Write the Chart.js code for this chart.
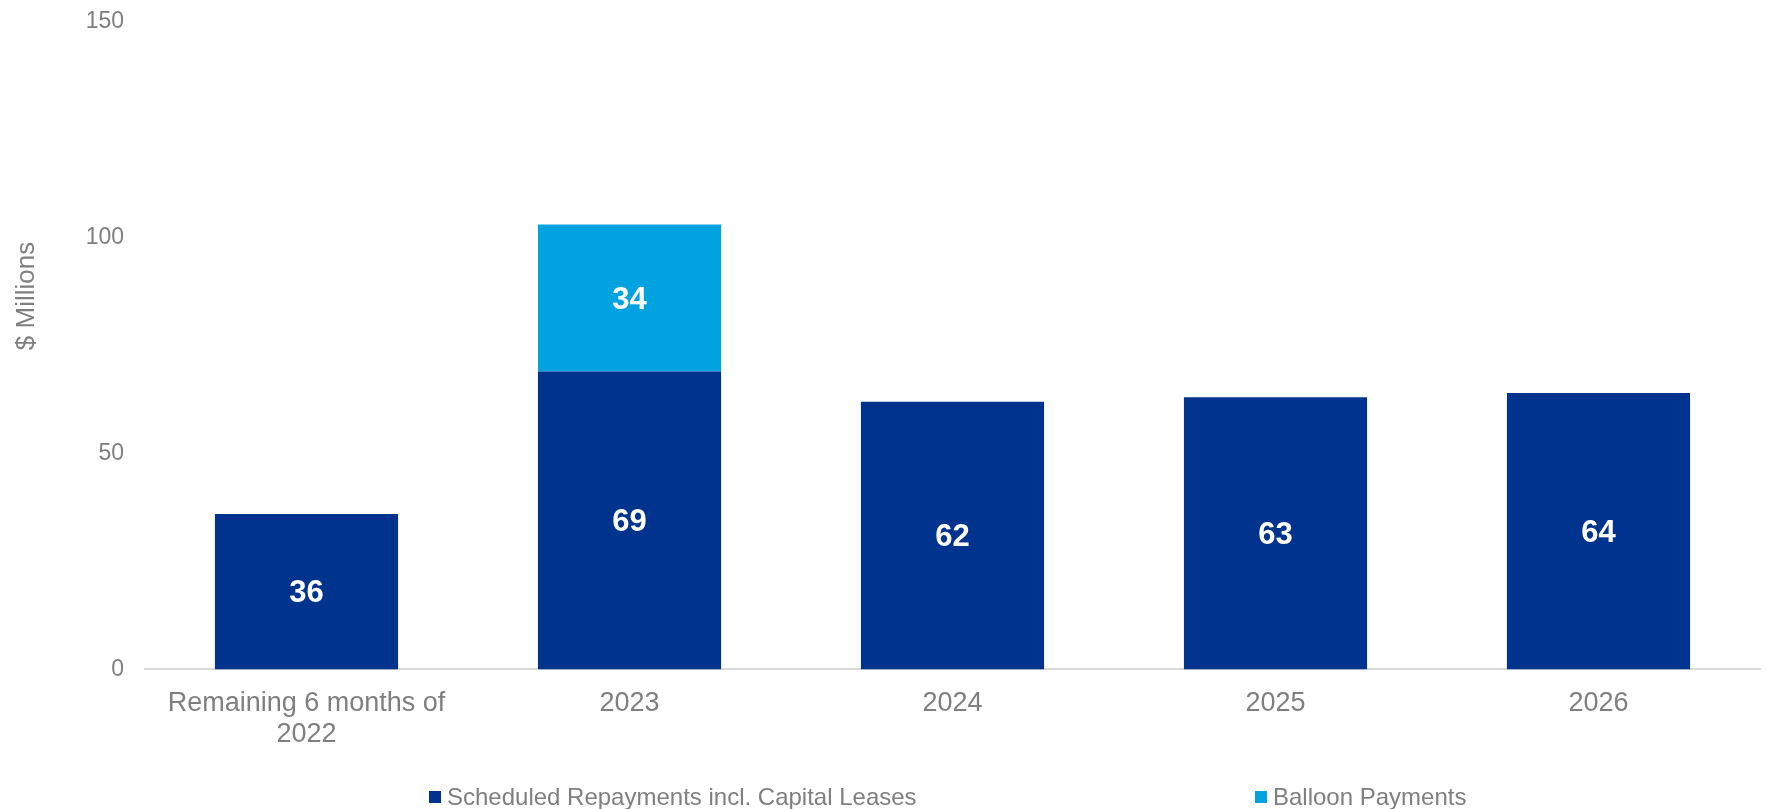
<!DOCTYPE html>
<html>
<head>
<meta charset="utf-8">
<script src="https://cdn.jsdelivr.net/npm/chart.js@4"></script>
<style>
  html, body { margin: 0; padding: 0; background: #fff; }
  #wrap { width: 1775px; height: 809px; position: relative; }
</style>
</head>
<body>
<div id="wrap"><canvas id="bar-chart"></canvas></div>
<script>
// data
const categories = [["Remaining 6 months of", "2022"], "2023", "2024", "2025", "2026"];
const scheduled = [36, 69, 62, 63, 64];
const balloon = [null, 34, null, null, null];
const yTicks = [0, 50, 100, 150];

const darkBlue = "#00338D";
const lightBlue = "#00A3E0";
const grey = "#7f7f7f";
const fam = "'Liberation Sans', Arial, sans-serif";

// white value labels in the middle of each bar segment
const barLabels = {
  id: "barLabels",
  afterDatasetsDraw(chart) {
    const ctx = chart.ctx;
    ctx.save();
    ctx.fillStyle = "#fff";
    ctx.font = "bold 31px " + fam;
    ctx.textAlign = "center";
    ctx.textBaseline = "middle";
    chart.data.datasets.forEach((ds, i) => {
      chart.getDatasetMeta(i).data.forEach((bar, j) => {
        if (ds.data[j] == null) return;
        const mid = (bar.y + bar.base) / 2;
        ctx.fillText(ds.data[j], bar.x, mid + 2);
      });
    });
    ctx.restore();
  }
};

// axis title and the spread out legend, drawn like excel does
const extras = {
  id: "extras",
  afterDraw(chart) {
    const ctx = chart.ctx;
    ctx.save();
    ctx.fillStyle = grey;
    ctx.textBaseline = "middle";
    // y axis title
    ctx.save();
    ctx.font = "26px " + fam;
    ctx.translate(27, 296);
    ctx.rotate(-Math.PI / 2);
    ctx.textAlign = "center";
    ctx.fillText("$ Millions", 0, 0);
    ctx.restore();
    // legend
    ctx.font = "24px " + fam;
    const items = [
      { x: 429, ds: chart.data.datasets[0] },
      { x: 1255, ds: chart.data.datasets[1] }
    ];
    const ly = 797;
    items.forEach(it => {
      ctx.fillStyle = it.ds.backgroundColor;
      ctx.fillRect(it.x, ly - 6, 12, 12);
      ctx.fillStyle = grey;
      ctx.textAlign = "left";
      ctx.fillText(it.ds.label, it.x + 18, ly + 1);
    });
    ctx.restore();
  }
};

const ctx = document.getElementById("bar-chart");
const myChart = new Chart(ctx, {
  type: "bar",
  data: {
    labels: categories,
    datasets: [
      {
        label: "Scheduled Repayments incl. Capital Leases",
        data: scheduled,
        backgroundColor: darkBlue,
        categoryPercentage: 1,
        barPercentage: 0.567
      },
      {
        label: "Balloon Payments",
        data: balloon,
        backgroundColor: lightBlue,
        categoryPercentage: 1,
        barPercentage: 0.567
      }
    ]
  },
  options: {
    responsive: true,
    maintainAspectRatio: false,
    animation: false,
    layout: { padding: { top: 0, right: 15, bottom: 48, left: 0 } },
    plugins: {
      legend: { display: false },
      tooltip: { enabled: false }
    },
    scales: {
      x: {
        stacked: true,
        grid: { display: false },
        border: { display: true, color: "#d9d9d9", width: 2 },
        ticks: {
          color: grey,
          padding: 11,
          maxRotation: 0,
          autoSkip: false,
          font: { family: fam, size: 27, lineHeight: 1.14 }
        }
      },
      y: {
        stacked: true,
        min: 0,
        max: 150,
        afterBuildTicks(axis) {
          axis.ticks = yTicks.map(v => ({ value: v }));
        },
        afterFit(axis) {
          axis.width = 145;
        },
        grid: { display: false },
        border: { display: false },
        ticks: {
          color: grey,
          padding: 13,
          font: { family: fam, size: 23, lineHeight: 0.75 }
        }
      }
    }
  },
  plugins: [barLabels, extras]
});
</script>
</body>
</html>
